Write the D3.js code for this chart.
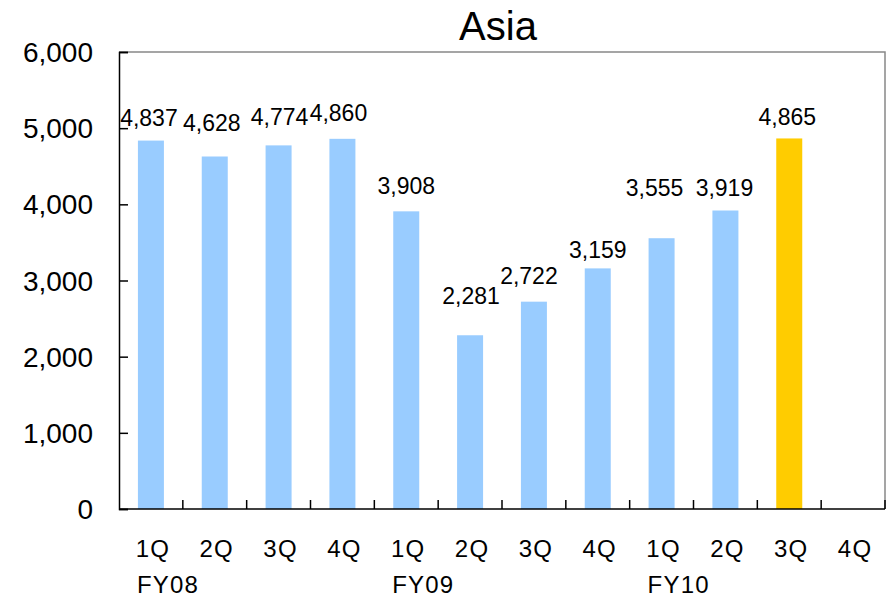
<!DOCTYPE html>
<html>
<head>
<meta charset="utf-8">
<script src="https://cdn.jsdelivr.net/npm/d3@7"></script>
<style>
  body { margin: 0; background: #fff; }
  svg { display: block; font-family: "Liberation Sans", Arial, sans-serif; }
</style>
</head>
<body>
<svg id="chart" width="894" height="599"></svg>
<script>
// Quarterly sales, Asia region
const quarters = ["1Q", "2Q", "3Q", "4Q", "1Q", "2Q", "3Q", "4Q", "1Q", "2Q", "3Q", "4Q"];
const fiscalYears = ["FY08", "FY09", "FY10"];
const values = [4837, 4628, 4774, 4860, 3908, 2281, 2722, 3159, 3555, 3919, 4865, null];
const highlightIndex = 10;
const yTicks = [0, 1000, 2000, 3000, 4000, 5000, 6000];

const svg = d3.select("#chart");
const margin = { left: 119, right: 9, top: 52, bottom: 90 };
const W = 894, H = 599;
const x0 = margin.left, x1 = W - margin.right;
const y0 = H - margin.bottom, y1 = margin.top;

const idx = d3.range(quarters.length);
const x = d3.scaleBand().domain(idx).range([x0, x1]).paddingInner(0).paddingOuter(0);
const y = d3.scaleLinear().domain([0, 6000]).range([y0, y1]);
const fmt = d3.format(",");
const cx = i => x(i) + x.bandwidth() / 2;

// Frame: top and right edges in grey
svg.append("path")
  .attr("d", `M${x0},${y1}H${x1}V${y0}`)
  .attr("fill", "none").attr("stroke", "#888").attr("stroke-width", 1.5);

// Bars
const bw = 26;
const shown = idx.filter(i => values[i] != null);
svg.append("g").selectAll("rect")
  .data(shown)
  .join("rect")
  .attr("x", i => cx(i) - bw / 2)
  .attr("width", bw)
  .attr("y", i => y(values[i]))
  .attr("height", i => y(0) - y(values[i]))
  .attr("fill", i => i === highlightIndex ? "#FFCC00" : "#99CCFF");

// Value labels, hand-placed above each bar (gap in px between bar top and baseline)
const labelLift = [15, 26, 20, 18, 17, 31, 18, 10, 42, 15, 13];
const labelShift = [-2, -3, 1, -4, 0, 1, -5, 0, -7, -1, -2];
svg.append("g").selectAll("text")
  .data(shown)
  .join("text")
  .attr("x", i => cx(i) + labelShift[i])
  .attr("y", i => y(values[i]) - labelLift[i])
  .attr("text-anchor", "middle")
  .attr("font-size", 23)
  .attr("fill", "#000")
  .text(i => fmt(values[i]));

// Y axis with inward ticks
const yAxis = d3.axisRight(y).tickValues(yTicks).tickSize(9).tickFormat("");
const gy = svg.append("g").attr("transform", `translate(${x0},0)`).call(yAxis);
gy.select(".domain").attr("stroke", "#000").attr("stroke-width", 1.5);
gy.selectAll(".tick line").attr("stroke", "#000").attr("stroke-width", 1.5);

svg.append("g").selectAll("text")
  .data(yTicks)
  .join("text")
  .attr("x", x0 - 26)
  .attr("y", d => y(d) + 10)
  .attr("text-anchor", "end")
  .attr("font-size", 28)
  .text(d => fmt(d));

// X axis with inward ticks at category boundaries
const boundaries = idx.slice(1).map(i => x(i)).concat([x1]);
svg.append("line")
  .attr("x1", x0).attr("x2", x1).attr("y1", y0).attr("y2", y0)
  .attr("stroke", "#000").attr("stroke-width", 1.5);
svg.append("g").selectAll("line")
  .data(boundaries)
  .join("line")
  .attr("x1", d => d).attr("x2", d => d)
  .attr("y1", y0).attr("y2", y0 - 9)
  .attr("stroke", "#000").attr("stroke-width", 1.5);

// Quarter labels
svg.append("g").selectAll("text")
  .data(idx)
  .join("text")
  .attr("x", i => cx(i) + 2)
  .attr("y", 557)
  .attr("text-anchor", "middle")
  .attr("font-size", 24)
  .attr("letter-spacing", 1.2)
  .text(i => quarters[i]);

// Fiscal year labels, aligned with the left edge of each year's first quarter label
svg.append("g").selectAll("text")
  .data(fiscalYears)
  .join("text")
  .attr("x", (d, k) => cx(k * 4) - 14)
  .attr("y", 593)
  .attr("text-anchor", "start")
  .attr("font-size", 24)
  .attr("letter-spacing", 1.2)
  .text(d => d);

// Title
svg.append("text")
  .attr("x", 498)
  .attr("y", 40)
  .attr("text-anchor", "middle")
  .attr("font-size", 40)
  .text("Asia");
</script>
</body>
</html>
